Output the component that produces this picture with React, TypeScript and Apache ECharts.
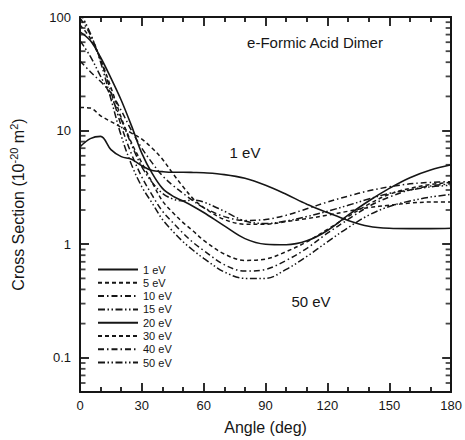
import React, { useEffect, useRef } from 'react';
import * as echarts from 'echarts';

// Scattering angle (deg)
const angles = [0, 5, 10, 15, 20, 25, 30, 35, 40, 45, 50, 55, 60, 70, 80, 90, 100, 110, 120, 130, 140, 150, 160, 170, 180];

const seriesNames = ['1 eV', '5 eV', '10 eV', '15 eV', '20 eV', '30 eV', '40 eV', '50 eV'];

// Cross sections (10^-20 m^2)
const cs1eV = [7.2, 8.5, 8.9, 6.8, 5.9, 5.6, 4.9, 4.45, 4.35, 4.3, 4.3, 4.28, 4.25, 4.1, 3.8, 3.3, 2.75, 2.25, 1.9, 1.62, 1.44, 1.38, 1.37, 1.37, 1.38];
const cs5eV = [16, 15.8, 13.5, 12, 10.7, 9.5, 8.4, 7.0, 5.6, 4.2, 3.2, 2.5, 2.1, 1.65, 1.5, 1.5, 1.58, 1.68, 1.8, 1.95, 2.1, 2.2, 2.3, 2.35, 2.35];
const cs10eV = [41, 33, 27, 21.5, 15, 10, 7, 5.2, 4.0, 3.3, 2.8, 2.4, 2.1, 1.75, 1.62, 1.65, 1.8, 2.05, 2.35, 2.65, 2.95, 3.2, 3.4, 3.5, 3.55];
const cs15eV = [62, 45, 30, 20, 12.5, 7.5, 4.8, 3.5, 2.8, 2.5, 2.4, 2.45, 2.35, 1.95, 1.6, 1.52, 1.6, 1.75, 1.95, 2.2, 2.5, 2.8, 3.0, 3.2, 3.3];
const cs20eV = [74, 62, 44, 29, 18.5, 11, 6.3, 4.2, 3.1, 2.65, 2.4, 2.15, 1.9, 1.45, 1.12, 1.0, 0.99, 1.07, 1.32, 1.8, 2.4, 3.1, 3.85, 4.5, 5.0];
const cs30eV = [85, 65, 42, 24, 13, 7.8, 5.2, 3.5, 2.4, 1.9, 1.55, 1.3, 1.08, 0.82, 0.72, 0.74, 0.86, 1.05, 1.35, 1.75, 2.25, 2.75, 3.1, 3.35, 3.5];
const cs40eV = [98, 70, 42, 22, 11, 6.2, 3.9, 2.7, 1.95, 1.55, 1.25, 1.03, 0.88, 0.66, 0.58, 0.6, 0.72, 0.92, 1.25, 1.65, 2.15, 2.6, 3.0, 3.25, 3.4];
const cs50eV = [110, 72, 40, 19, 9.0, 5.0, 3.2, 2.3, 1.65, 1.3, 1.05, 0.88, 0.75, 0.57, 0.5, 0.5, 0.6, 0.78, 1.05, 1.4, 1.8, 2.15, 2.4, 2.6, 2.75];

const allValues = [cs1eV, cs5eV, cs10eV, cs15eV, cs20eV, cs30eV, cs40eV, cs50eV];

// Tick labels / minor log ticks
const yMajorLabels = [0.1, 1, 10, 100];
const yMinorTicks = [0.06, 0.07, 0.08, 0.09, 0.2, 0.3, 0.4, 0.5, 0.6, 0.7, 0.8, 0.9, 2, 3, 4, 5, 6, 7, 8, 9, 20, 30, 40, 50, 60, 70, 80, 90];
const xMin = 0;
const xMax = 180;

const FONT = '"Liberation Sans", Arial, Helvetica, sans-serif';
const INK = '#161616';

const dashStyles: any[] = [
  'solid',
  [4, 3],
  [6, 3, 1.5, 3],
  [7, 2.5, 1.5, 2.5, 1.5, 2.5],
  'solid',
  [4, 3],
  [6, 3, 1.5, 3],
  [7, 2.5, 1.5, 2.5, 1.5, 2.5],
];

export default function App() {
  const ref = useRef<HTMLDivElement>(null);

  useEffect(() => {
    if (!ref.current) return;
    const chart = echarts.init(ref.current, undefined, { renderer: 'svg' });

    const axisLineStyle = { color: INK, width: 2 };
    const tickStyle = { color: INK, width: 1.8 };

    const xCommon = {
      type: 'value',
      min: xMin,
      max: xMax,
      interval: 30,
      axisLine: { show: true, onZero: false, lineStyle: axisLineStyle },
      axisTick: { show: true, inside: true, length: 9, lineStyle: tickStyle },
      minorTick: { show: true, splitNumber: 3, length: 5, lineStyle: tickStyle },
      splitLine: { show: false },
      minorSplitLine: { show: false },
    };

    const yCommon = {
      type: 'log',
      logBase: 10,
      min: 0.05,
      max: 100,
      axisLine: { show: true, onZero: false, lineStyle: axisLineStyle },
      axisTick: { show: true, inside: true, length: 9, lineStyle: tickStyle },
      splitLine: { show: false },
    };

    const lineSeries = seriesNames.map((name, k) => ({
      name,
      type: 'line',
      xAxisIndex: 0,
      yAxisIndex: 0,
      data: angles.map((a, i) => [a, allValues[k][i]]),
      smooth: 0.35,
      symbol: 'none',
      showSymbol: false,
      clip: true,
      lineStyle: {
        color: INK,
        width: dashStyles[k] === 'solid' ? 1.6 : 1.5,
        type: dashStyles[k],
      },
      itemStyle: { color: INK },
      z: 3,
    }));

    const tickSeries = (xv: number, dir: number) => ({
      type: 'scatter',
      name: 'minorTicks' + xv,
      silent: true,
      clip: false,
      xAxisIndex: 0,
      yAxisIndex: 0,
      data: yMinorTicks.map((v) => [xv, v]),
      symbol: 'rect',
      symbolSize: [5.5, 1.8],
      symbolOffset: [dir * 2.75, 0],
      itemStyle: { color: INK },
      z: 4,
    });

    chart.setOption({
      animation: false,
      backgroundColor: '#ffffff',
      grid: { left: 79, right: 11, top: 17, bottom: 48, containLabel: false },
      xAxis: [
        {
          ...xCommon,
          position: 'bottom',
          axisLabel: { show: true, color: INK, fontSize: 13, fontFamily: FONT, margin: 7 },
          name: 'Angle (deg)',
          nameLocation: 'middle',
          nameGap: 27,
          nameTextStyle: { color: INK, fontSize: 16, fontFamily: FONT },
        },
        {
          ...xCommon,
          position: 'top',
          axisLabel: { show: false },
        },
      ],
      yAxis: [
        {
          ...yCommon,
          position: 'left',
          axisLabel: {
            show: true,
            color: INK,
            fontSize: 13,
            fontFamily: FONT,
            margin: 9,
            formatter: (v: number) =>
              yMajorLabels.some((d) => Math.abs(d - v) / d < 1e-6) ? String(v) : '',
          },
          name: 'Cross Section (10{sup|-20} m{sup|2})',
          nameLocation: 'middle',
          nameGap: 52,
          nameTextStyle: {
            color: INK,
            fontSize: 16,
            fontFamily: FONT,
            rich: {
              sup: { fontSize: 11, fontFamily: FONT, color: INK, verticalAlign: 'top', padding: [0, 0, 9, 0] },
            },
          },
        },
        {
          ...yCommon,
          position: 'right',
          axisLabel: { show: false },
        },
      ],
      legend: {
        data: seriesNames,
        orient: 'vertical',
        left: 97,
        top: 264,
        padding: 0,
        itemWidth: 40,
        itemHeight: 10,
        itemGap: 2.3,
        selectedMode: false,
        itemStyle: { opacity: 0, borderWidth: 0 },
        textStyle: { color: INK, fontSize: 11, fontFamily: FONT },
      },
      graphic: [
        {
          type: 'text',
          x: 315,
          y: 42,
          style: {
            text: 'e-Formic Acid Dimer',
            fill: INK,
            fontSize: 15,
            fontFamily: FONT,
            align: 'center',
            verticalAlign: 'middle',
          },
        },
        {
          type: 'text',
          x: 245,
          y: 152,
          style: { text: '1 eV', fill: INK, fontSize: 15, fontFamily: FONT, align: 'center', verticalAlign: 'middle' },
        },
        {
          type: 'text',
          x: 311,
          y: 301,
          style: { text: '50 eV', fill: INK, fontSize: 15, fontFamily: FONT, align: 'center', verticalAlign: 'middle' },
        },
      ],
      series: [...lineSeries, tickSeries(xMin, 1), tickSeries(xMax, -1)],
    });

    return () => chart.dispose();
  }, []);

  return (
    <div
      ref={ref}
      style={{ position: 'fixed', left: 0, top: 0, width: 465, height: 440, background: '#fff' }}
    />
  );
}
